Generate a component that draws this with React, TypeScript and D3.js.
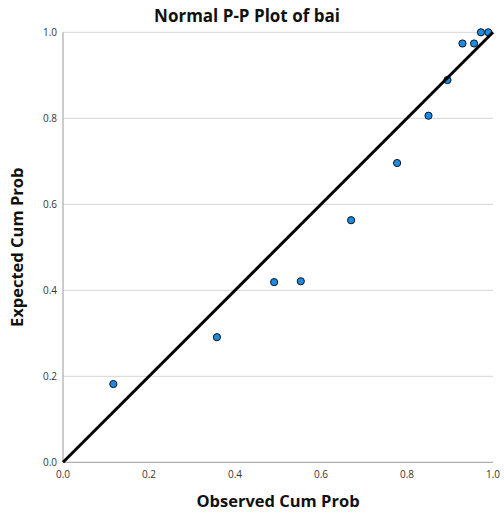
import React from "react";
import * as d3 from "d3";

const observed = [0.117, 0.358, 0.491, 0.553, 0.67, 0.777, 0.85, 0.894, 0.929, 0.956, 0.972, 0.989];
const expected = [0.182, 0.291, 0.419, 0.421, 0.563, 0.696, 0.806, 0.889, 0.974, 0.974, 1.0, 1.0];
const ticks = [0, 0.2, 0.4, 0.6, 0.8, 1.0];
const title = "Normal P-P Plot of bai";
const xTitle = "Observed Cum Prob";
const yTitle = "Expected Cum Prob";

export default function App() {
  const W = 504, H = 520;
  const x = d3.scaleLinear().domain([0, 1]).range([63, 493]);
  const y = d3.scaleLinear().domain([0, 1]).range([462.3, 32.3]);
  const font = "'Open Sans', 'DejaVu Sans', sans-serif";
  const line = d3.line<number>().x((d) => x(d)).y((d) => y(d));
  return (
    <svg width={W} height={H} style={{ position: "absolute", left: 0, top: 0 }} fontFamily={font}>
      <rect width={W} height={H} fill="#fff" />
      {ticks.filter((t) => t > 0).map((t) => (
        <line key={"g" + t} x1={x(0)} x2={x(1)} y1={y(t)} y2={y(t)} stroke="#d4d4d4" strokeWidth={1} />
      ))}
      <line x1={x(0)} x2={x(0)} y1={y(0)} y2={y(1)} stroke="#9a9a9a" strokeWidth={1} />
      <line x1={x(0)} x2={x(1)} y1={y(0)} y2={y(0)} stroke="#9a9a9a" strokeWidth={1} />
      {ticks.map((t) => (
        <text key={"yl" + t} x={57} y={y(t) + 3.5} textAnchor="end" fontSize={10} fill="#333">
          {t.toFixed(1)}
        </text>
      ))}
      {ticks.map((t) => (
        <text key={"xl" + t} x={x(t)} y={478} textAnchor="middle" fontSize={10} fill="#333">
          {t.toFixed(1)}
        </text>
      ))}
      {observed.map((o, i) => (
        <circle key={"p" + i} cx={x(o)} cy={y(expected[i])} r={3.6} fill="#1a8ce6" stroke="#111" strokeWidth={1} />
      ))}
      <path d={line([0, 1]) || ""} stroke="#000" strokeWidth={3} fill="none" />
      <text x={247} y={22} textAnchor="middle" fontSize={17} fontWeight="bold" fill="#111">
        {title}
      </text>
      <text x={278} y={507} textAnchor="middle" fontSize={16.5} fontWeight="bold" fill="#111">
        {xTitle}
      </text>
      <text
        transform={`translate(23, ${(y(0) + y(1)) / 2}) rotate(-90)`}
        textAnchor="middle"
        fontSize={16.5}
        fontWeight="bold"
        fill="#111"
      >
        {yTitle}
      </text>
    </svg>
  );
}
